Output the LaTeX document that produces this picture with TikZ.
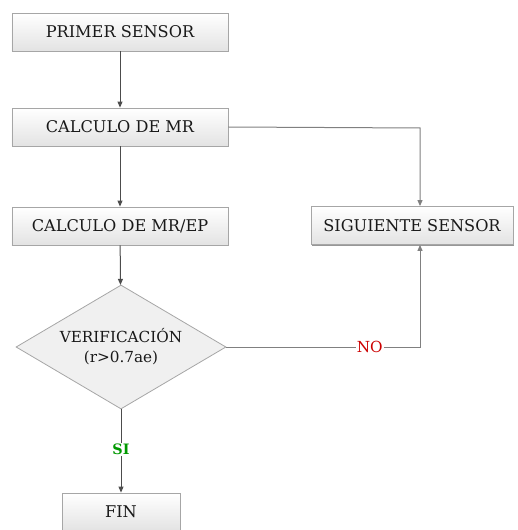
\documentclass[tikz,border=0pt]{standalone}
\usepackage{fontspec}
\newfontfamily\boxfont{DejaVu Serif}[Scale=0.9]
\usetikzlibrary{shapes.geometric,shadows,arrows.meta}
\begin{document}
\begin{tikzpicture}[x=1bp,y=-1bp,
  proc/.style={draw=gray!70, line width=0.8bp, top color=white, bottom color=gray!22,
    minimum height=38bp, inner sep=0pt, text=black!90,
    font=\boxfont\fontsize{18}{20}\selectfont,
    drop shadow={shadow xshift=0.8bp, shadow yshift=-1.3bp, fill=gray!90, opacity=0.9}},
  decide/.style={diamond, aspect=1.69, draw=gray!70, line width=0.8bp, fill=gray!12,
    minimum width=210bp, minimum height=124bp, inner sep=0pt, text=black!90,
    font=\boxfont\fontsize{17}{21}\selectfont, align=center},
  conn/.style={draw=black!70, line width=1bp, -{Triangle[length=6bp,width=5bp]}},
  connlight/.style={draw=black!50, line width=1bp, -{Triangle[length=6bp,width=5bp]}},
  lbl/.style={fill=white, inner sep=1pt, font=\boxfont\fontsize{17}{20}\selectfont}
]
\useasboundingbox (0,0) rectangle (518,530);

% process boxes
\node[proc, minimum width=216bp] (p1) at (120,32) {PRIMER SENSOR};
\node[proc, minimum width=216bp] (p2) at (120,127) {CALCULO DE MR};
\node[proc, minimum width=216bp] (p3) at (120,226) {CALCULO DE MR/EP};
\node[proc, minimum width=202bp] (sig) at (412,225.5) {SIGUIENTE SENSOR};
\node[decide] (ver) at (121,347) {VERIFICACIÓN\\[-1pt](r>0.7ae)};
\node[proc, minimum width=118bp] (fin) at (121,512) {FIN};

% bend points of the return path
\coordinate (cTop) at (420,128);
\coordinate (cNo) at (420,347);

% connectors
\draw[conn] (p1) -- (p2);
\draw[conn] (p2) -- (p3);
\draw[conn] (p3) -- (ver);
\draw[connlight] (p2.east) -- (cTop) -- (cTop |- sig.north);
\draw[connlight] (ver.east) -- node[lbl, pos=0.74, text=red!80!black]{NO} (cNo) -- (cNo |- sig.south);
\draw[conn] (ver.south) -- node[lbl, pos=0.48, text=green!60!black, font=\boxfont\bfseries\fontsize{16}{18}\selectfont]{SI} (fin);
\end{tikzpicture}
\end{document}
